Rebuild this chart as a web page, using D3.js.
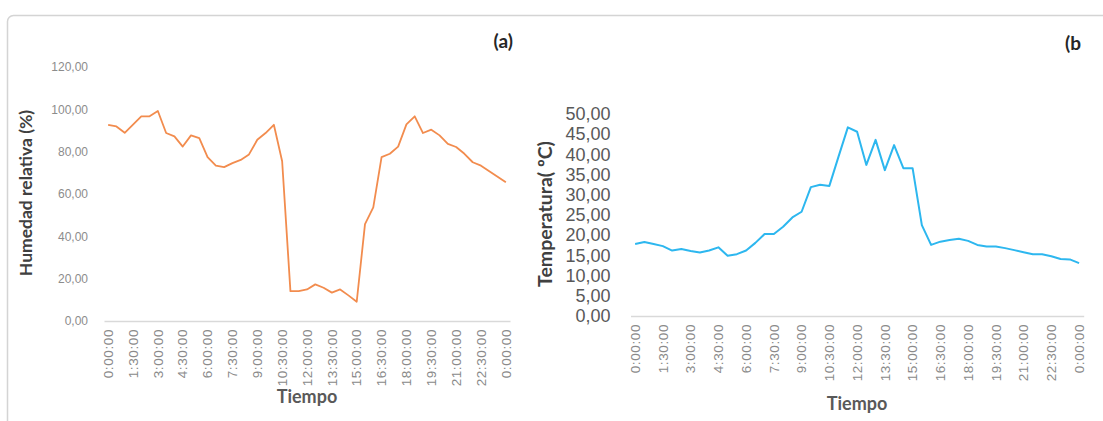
<!DOCTYPE html>
<html>
<head>
<meta charset="utf-8">
<script src="https://cdn.jsdelivr.net/npm/d3@7"></script>
<style>
  html, body { margin: 0; padding: 0; background: #fff; }
  svg { display: block; font-family: Lato, "Noto Sans", sans-serif; }
</style>
</head>
<body>
<svg id="chart" width="1103" height="421"></svg>
<script>
// Half-hourly readings over one day (0:00 to the next 0:00)
const times = [
  "0:00:00","0:30:00","1:00:00","1:30:00","2:00:00","2:30:00","3:00:00","3:30:00",
  "4:00:00","4:30:00","5:00:00","5:30:00","6:00:00","6:30:00","7:00:00","7:30:00",
  "8:00:00","8:30:00","9:00:00","9:30:00","10:00:00","10:30:00","11:00:00","11:30:00",
  "12:00:00","12:30:00","13:00:00","13:30:00","14:00:00","14:30:00","15:00:00","15:30:00",
  "16:00:00","16:30:00","17:00:00","17:30:00","18:00:00","18:30:00","19:00:00","19:30:00",
  "20:00:00","20:30:00","21:00:00","21:30:00","22:00:00","22:30:00","23:00:00","23:30:00",
  "0:00:00"
];

// Relative humidity (%)
const humidity = [
  92.7, 91.9, 88.9, 92.8, 96.7, 96.7, 99.2, 88.8, 87.2, 82.4,
  87.7, 86.4, 77.4, 73.4, 72.7, 74.6, 76.1, 78.7, 85.6, 88.8,
  92.7, 75.5, 14.1, 14.1, 14.9, 17.3, 15.7, 13.4, 14.9, 12.1,
  9.1, 45.8, 53.7, 77.4, 79.0, 82.4, 92.9, 96.7, 88.8, 90.4,
  87.7, 83.7, 82.2, 79.0, 75.0, 73.4, 70.8, 68.2, 65.5
];

// Temperature (ºC)
const temperature = [
  17.8, 18.3, 17.8, 17.3, 16.2, 16.6, 16.1, 15.7, 16.2, 17.0,
  14.9, 15.3, 16.2, 18.1, 20.3, 20.3, 22.1, 24.4, 25.8, 31.9,
  32.5, 32.2, 39.5, 46.7, 45.6, 37.4, 43.6, 36.1, 42.3, 36.6,
  36.6, 22.5, 17.6, 18.4, 18.8, 19.1, 18.6, 17.6, 17.2, 17.2,
  16.8, 16.3, 15.8, 15.3, 15.3, 14.8, 14.1, 14.0, 13.1
];

const humidityTicks = [0, 20, 40, 60, 80, 100, 120];
const temperatureTicks = [0, 5, 10, 15, 20, 25, 30, 35, 40, 45, 50];

const svg = d3.select("#chart");
const fmt = v => d3.format(".2f")(v).replace(".", ",");
const idx = d3.range(times.length);
const labelIdx = idx.filter(i => i % 3 === 0);

// outer frame with rounded top-left corner
svg.append("rect")
  .attr("x", 7.5).attr("y", 15.5)
  .attr("width", 1120).attr("height", 430)
  .attr("rx", 6)
  .attr("fill", "none")
  .attr("stroke", "#d4d4d4")
  .attr("stroke-width", 1.5);

function panel(opts) {
  const x = d3.scaleBand().domain(idx).range(opts.xRange);
  const y = d3.scaleLinear().domain(opts.yDomain).range(opts.yRange);
  const g = svg.append("g");

  // category axis with rotated time labels
  const xa = g.append("g")
    .attr("transform", `translate(0,${opts.yRange[0]})`)
    .call(d3.axisBottom(x).tickValues(labelIdx).tickFormat(i => times[i])
      .tickSize(0).tickSizeOuter(0));
  xa.select(".domain").attr("stroke", "#d9d9d9").attr("stroke-width", 1.5);
  xa.selectAll("text")
    .attr("transform", "rotate(-90)")
    .attr("x", -opts.labelGap).attr("y", 0).attr("dy", "0.35em")
    .style("text-anchor", "end")
    .style("font-size", "13.5px")
    .style("letter-spacing", "0.6px")
    .attr("fill", "#8a8a8a");

  // value axis
  const ya = g.append("g")
    .attr("transform", `translate(${opts.xRange[0]},0)`)
    .call(d3.axisLeft(y).tickValues(opts.ticks).tickFormat(fmt)
      .tickSize(0).tickPadding(opts.tickPad));
  ya.select(".domain").remove();
  ya.selectAll("text")
    .style("font-size", opts.tickFont)
    .attr("fill", opts.tickColor);

  // series line
  const line = d3.line()
    .x((d, i) => x(i) + x.bandwidth() / 2)
    .y(d => y(d));
  g.append("path")
    .datum(opts.values)
    .attr("d", line)
    .attr("fill", "none")
    .attr("stroke", opts.color)
    .attr("stroke-width", opts.lineWidth)
    .attr("stroke-linejoin", "round");

  // axis titles
  const cx = (opts.xRange[0] + opts.xRange[1]) / 2;
  g.append("text")
    .attr("x", cx).attr("y", opts.xTitleY)
    .attr("text-anchor", "middle")
    .style("font-size", "18px").style("font-weight", "bold")
    .attr("fill", "#595959")
    .text("Tiempo");
  g.append("text")
    .attr("transform", `translate(${opts.yTitleX},${opts.yTitleY}) rotate(-90)`)
    .attr("text-anchor", "middle")
    .style("font-size", opts.yTitleFont).style("font-weight", "bold")
    .attr("fill", "#404040")
    .text(opts.yTitle);

  // panel tag
  g.append("text")
    .attr("x", opts.tagX).attr("y", opts.tagY)
    .attr("text-anchor", "end")
    .style("font-size", "19px").style("font-weight", "bold")
    .attr("fill", "#262626")
    .text(opts.tag);
}

panel({
  values: humidity,
  xRange: [104, 510], yRange: [321, 67], yDomain: [0, 120],
  ticks: humidityTicks, tickPad: 16, tickFont: "12px", tickColor: "#8c8c8c",
  labelGap: 8, color: "#f28c4e", lineWidth: 1.8,
  xTitleY: 403, yTitle: "Humedad relativa (%)", yTitleX: 32, yTitleY: 193, yTitleFont: "17.5px",
  tag: "(a)", tagX: 513, tagY: 48
});

panel({
  values: temperature,
  xRange: [630.5, 1083.7], yRange: [316, 114], yDomain: [0, 50],
  ticks: temperatureTicks, tickPad: 20, tickFont: "18px", tickColor: "#595959",
  labelGap: 8, color: "#2db7ef", lineWidth: 2,
  xTitleY: 410, yTitle: "Temperatura( ºC)", yTitleX: 552, yTitleY: 214, yTitleFont: "19.5px",
  tag: "(b", tagX: 1081, tagY: 50
});
</script>
</body>
</html>
